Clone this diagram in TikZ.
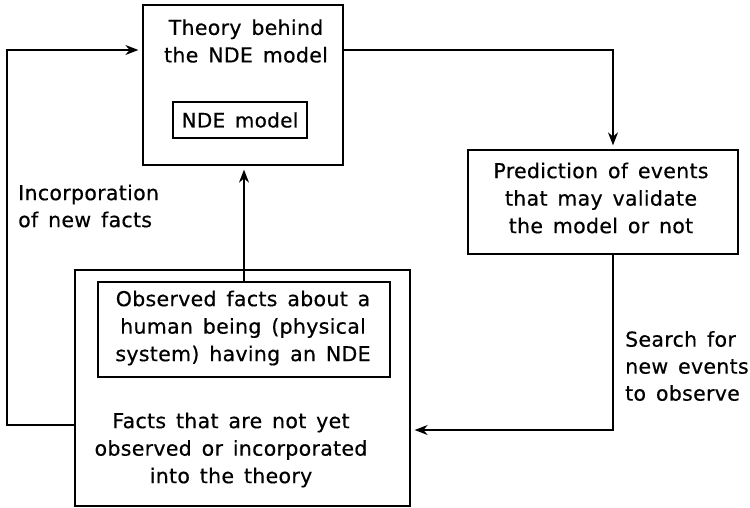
\documentclass[tikz,border=0pt]{standalone}
\usepackage{fontspec}
\setmainfont[WordSpace=1.45,FakeBold=0.5,LetterSpace=1.5]{DejaVu Sans}
\usetikzlibrary{arrows.meta}
\begin{document}
\begin{tikzpicture}[x=1pt,y=-1pt,
  box/.style={draw,line width=1.3pt,inner sep=0pt},
  txt/.style={font=\fontsize{20.5}{27.5}\selectfont,align=center,inner sep=0pt},
  ltxt/.style={font=\fontsize{20.5}{27}\selectfont,align=left,inner sep=0pt,anchor=west},
  conn/.style={line width=1.3pt,-{Stealth[length=13pt,width=10pt]},shorten >=4pt}]
\useasboundingbox (0,0) rectangle (750,508);
% boxes
\node[box,minimum width=200pt,minimum height=160pt] (theory) at (243,85) {};
\node[txt] (theorytxt) at (246,41) {Theory behind\\the NDE model};
\node[box,minimum width=134pt,minimum height=36pt,font=\fontsize{20}{27.5}\selectfont] (ndem) at (240,120) {NDE model};
\node[box,minimum width=270pt,minimum height=104pt] (pred) at (603,202) {};
\node[txt] (predtxt) at (601,198) {Prediction of events\\that may validate\\the model or not};
\node[box,minimum width=335pt,minimum height=236pt] (facts) at (242.5,388) {};
\node[box,minimum width=292pt,minimum height=95pt] (obs) at (244,329.5) {};
\node[txt] (obstxt) at (243,328) {Observed facts about a\\human being (physical\\system) having an NDE};
\node[txt] (factstxt) at (231,450) {Facts that are not yet\\observed or incorporated\\into the theory};
% labels
\node[ltxt] (inc) at (18,206) {Incorporation\\of new facts};
\node[ltxt] (search) at (625,366) {Search for\\new events\\to observe};
% connectors
\coordinate (fl) at (7,425);
\coordinate (tl) at (7,50);
\coordinate (tr) at (613,50);
\coordinate (br) at (613,430);
\draw[conn] (fl -| facts.west) -- (fl) -- (tl) -- (tl -| theory.west);
\draw[conn] (tr -| theory.east) -- (tr) -- (tr |- pred.north);
\draw[conn] (br |- pred.south) -- (br) -- (br -| facts.east);
\draw[conn] (obs.north) -- (obs.north |- theory.south);
\end{tikzpicture}
\end{document}
